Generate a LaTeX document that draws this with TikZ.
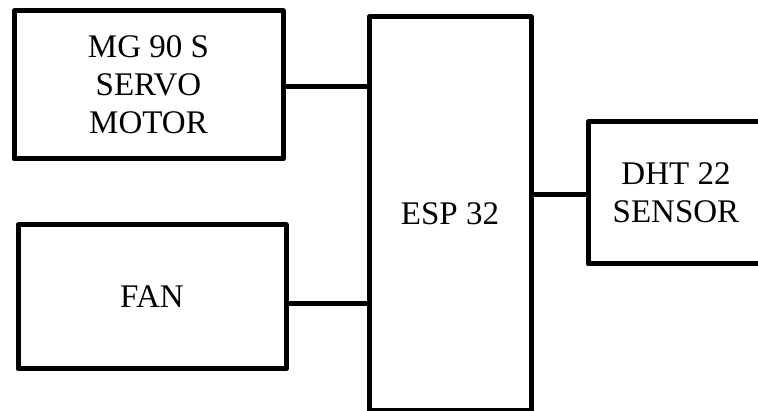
\documentclass[tikz,border=0pt]{standalone}
\usepackage{fontspec}
\setmainfont{Liberation Serif}
\usepackage{tikz}
\tikzstyle{block} = [rectangle, draw=black, line width=5pt, line join=round, fill=white, align=center, inner sep=0pt, font=\fontsize{33}{38}\selectfont]
\tikzstyle{wire} = [line width=5pt]

\begin{document}
\begin{tikzpicture}[x=1pt, y=-1pt]
        \useasboundingbox (0,0) rectangle (758,411);
        \clip (0,0) rectangle (758,411);

        \node (servo) [block, minimum width=269pt, minimum height=148pt] at (148.5,85) {MG 90 S\\SERVO\\MOTOR};
        \node (fan) [block, minimum width=268pt, minimum height=144pt] at (152,297) {FAN};
        \node (esp) [block, minimum width=162pt, minimum height=394pt] at (450,214) {ESP 32};
        \node (dht) [block, minimum width=176pt, minimum height=142pt] at (676,193) {DHT 22\\SENSOR};

        \draw [wire] ([yshift=-2pt]servo.east) -- ([yshift=-2pt]servo.east -| esp.west);
        \draw [wire] ([yshift=-7pt]fan.east) -- ([yshift=-7pt]fan.east -| esp.west);
        \draw [wire] ([yshift=-2pt]dht.west) -- ([yshift=-2pt]dht.west -| esp.east);
\end{tikzpicture}
\end{document}
